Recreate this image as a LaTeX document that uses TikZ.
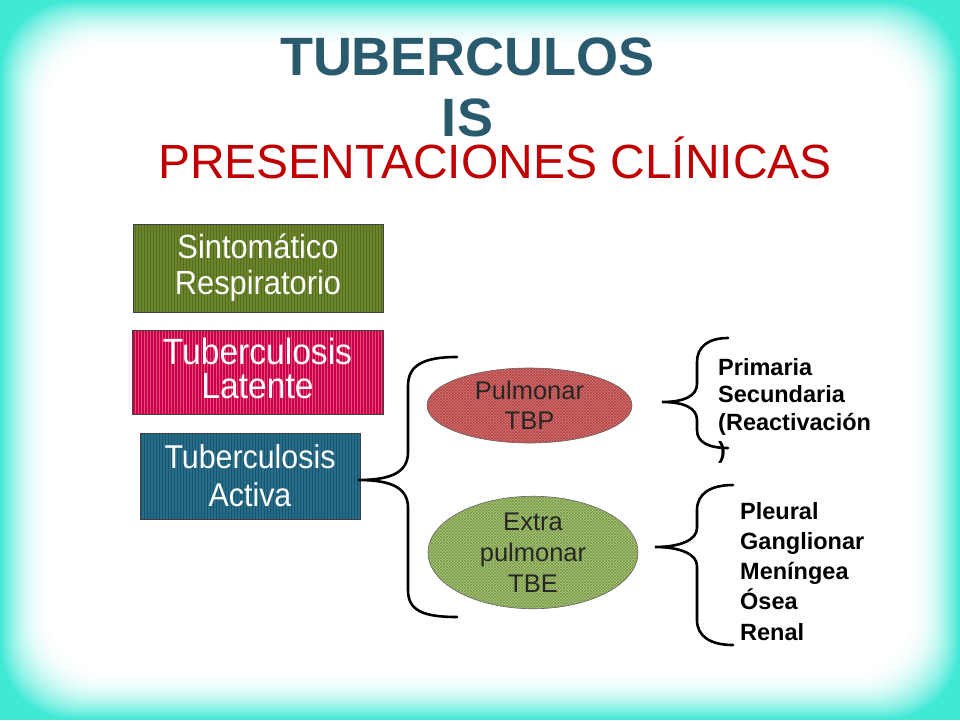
\documentclass[tikz,border=0pt]{standalone}
\usepackage{fontspec}
\setmainfont{Liberation Sans}
\newfontfamily\condsans{Liberation Sans}[FakeStretch=0.92]
\usetikzlibrary{patterns,shapes.geometric}
\definecolor{cyanbg}{RGB}{64,232,214}
\definecolor{titleblue}{RGB}{42,90,110}
\definecolor{subred}{RGB}{192,0,0}
\definecolor{olivebox}{RGB}{105,132,42}
\definecolor{olivestripe}{RGB}{85,110,30}
\definecolor{crimsonbox}{RGB}{200,0,72}
\definecolor{crimsonstripe}{RGB}{235,70,125}
\definecolor{tealbox}{RGB}{38,108,136}
\definecolor{tealstripe}{RGB}{25,85,110}
\definecolor{salmon}{RGB}{222,112,112}
\definecolor{salmonpat}{RGB}{170,70,70}
\definecolor{lightgreen}{RGB}{172,200,120}
\definecolor{greenpat}{RGB}{120,150,75}
\tikzset{
  catbox/.style={rectangle, draw=black!75, line width=0.8pt, inner sep=0pt,
     text=white, align=center, font=\condsans},
  oval/.style={ellipse, draw=black!60, line width=0.6pt, inner sep=0pt,
     align=center, text=black!85},
  bracestroke/.style={draw=black, line width=2.6pt, line cap=round},
  listtext/.style={anchor=north west, inner sep=0pt, align=left}
}
\begin{document}
\begin{tikzpicture}[x=1pt,y=-1pt]
\useasboundingbox (0,0) rectangle (960,720);
% background: cyan frame fading into white
\fill[cyanbg] (0,0) rectangle (960,720);
\foreach \i in {1,...,30}{
  \pgfmathsetmacro{\pw}{100-100*(1-\i/30)^2}
  \pgfmathsetmacro{\ins}{1.6*\i}
  \fill[white!\pw!cyanbg, rounded corners=70pt]
    (\ins,\ins) rectangle ({960-\ins},{720-\ins});
}

% titles
\node[anchor=north, inner sep=0pt, align=center, text=titleblue,
  font=\bfseries\fontsize{54}{61}\selectfont] (title) at (467.5,38) {TUBERCULOS\\IS};
\node[anchor=base, inner sep=0pt, text=subred,
  font=\fontsize{48}{54}\selectfont] (subtitle) at (495,178) {PRESENTACIONES CLÍNICAS};

% category boxes
\node[catbox, minimum width=250pt, minimum height=88pt,
  preaction={fill=olivebox}, pattern=vertical lines, pattern color=olivestripe,
  font=\condsans\fontsize{33.5}{36}\selectfont] (sint) at (258,268) {Sintomático\\Respiratorio};
\node[catbox, minimum width=251pt, minimum height=84pt, text depth=8pt,
  preaction={fill=crimsonbox}, pattern=vertical lines, pattern color=crimsonstripe,
  font=\condsans\fontsize{36.5}{34}\selectfont] (lat) at (257.5,372) {Tuberculosis\\Latente};
\node[catbox, minimum width=220pt, minimum height=86pt,
  preaction={fill=tealbox}, pattern=vertical lines, pattern color=tealstripe,
  font=\condsans\fontsize{33}{38}\selectfont] (act) at (250,476) {Tuberculosis\\Activa};

% ellipses
\node[oval, minimum width=205pt, minimum height=75pt,
  preaction={fill=salmon}, pattern=crosshatch, pattern color=salmonpat,
  font=\fontsize{25.5}{30}\selectfont] (pulm) at (529.5,405.5) {Pulmonar\\TBP};
\node[oval, minimum width=210pt, minimum height=99pt,
  preaction={fill=lightgreen}, pattern=crosshatch, pattern color=greenpat,
  font=\fontsize{25.5}{31}\selectfont] (extra) at (533,552.5) {Extra\\pulmonar\\TBE};

% lists
\node[listtext, font=\bfseries\fontsize{23.5}{27.6}\selectfont] (list1) at (718,358)
  {Primaria\\Secundaria\\(Reactivación\\)};
\node[listtext, font=\bfseries\fontsize{23.5}{30.2}\selectfont] (list2) at (740,502)
  {Pleural\\Ganglionar\\Meníngea\\Ósea\\Renal};

% big brace: from box "act" to the two ellipses
\coordinate (b0top) at (457,357);
\coordinate (b0tip) at (358,480);
\coordinate (b0bot) at (457,617);
\draw[bracestroke] (b0top) .. controls (422,357) and (408,366) .. (408,386)
  -- (408,452) .. controls (408,472) and (392,480) .. (b0tip)
  .. controls (392,480) and (408,488) .. (408,508)
  -- (408,590) .. controls (408,610) and (422,617) .. (b0bot);

% brace 1: Pulmonar -> list1
\coordinate (b1top) at (728,338);
\coordinate (b1tip) at (662,402);
\coordinate (b1bot) at (728,448);
\draw[bracestroke] (b1top) .. controls (708,338) and (697,347) .. (697,362)
  -- (697,384) .. controls (697,396) and (684,402) .. (b1tip)
  .. controls (684,402) and (697,408) .. (697,420)
  -- (697,430) .. controls (697,442) and (708,448) .. (b1bot);

% brace 2: Extra pulmonar -> list2
\coordinate (b2top) at (733,485);
\coordinate (b2tip) at (655,547);
\coordinate (b2bot) at (733,645);
\draw[bracestroke] (b2top) .. controls (710,485) and (697,494) .. (697,510)
  -- (697,528) .. controls (697,540) and (680,547) .. (b2tip)
  .. controls (680,547) and (697,554) .. (697,566)
  -- (697,620) .. controls (697,636) and (710,645) .. (b2bot);
\end{tikzpicture}
\end{document}
